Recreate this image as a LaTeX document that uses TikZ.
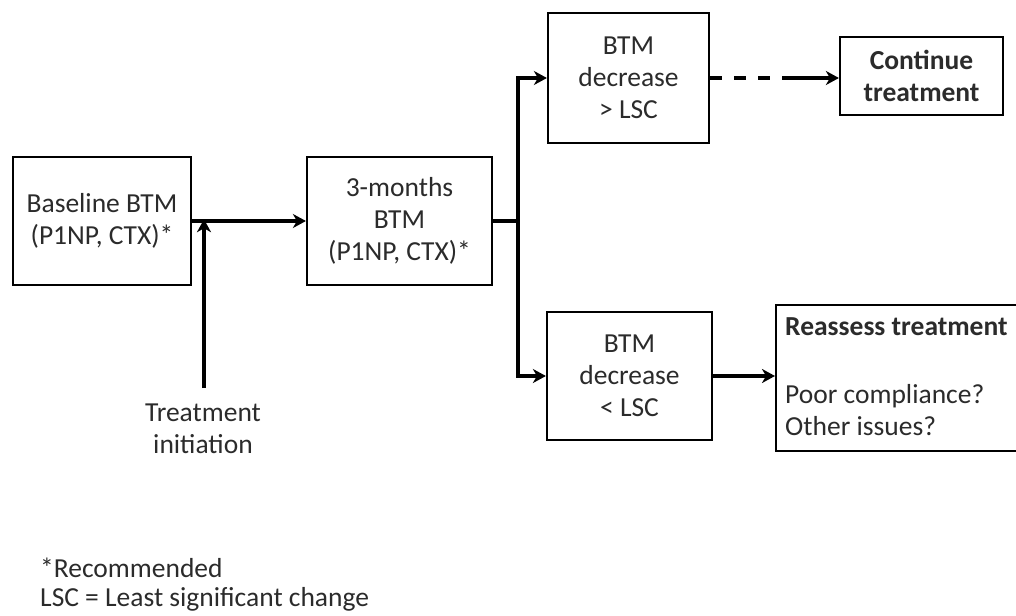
\documentclass[tikz,border=0pt]{standalone}
\usepackage{fontspec}
\setmainfont{Carlito}
\usetikzlibrary{arrows.meta}
\definecolor{txt}{HTML}{2B2B2B}
\begin{document}
\begin{tikzpicture}[x=1pt,y=-1pt,
  box/.style={draw=black,line width=2.2pt,fill=white,inner sep=0pt,align=center,text=txt,
    font=\fontsize{27.5}{32}\selectfont},
  arr/.style={line width=3.8pt,-{Stealth[length=13pt,width=14pt,inset=4pt]}},
  plain/.style={text=txt,font=\fontsize{27.5}{32}\selectfont,inner sep=0pt}]
\useasboundingbox (0,0) rectangle (1016,615);
\begin{scope}
\clip (0,0) rectangle (1016,615);
\node[box,minimum width=178pt,minimum height=128pt] (base) at (102,221) {Baseline BTM\\(P1NP, CTX)*};
\node[box,minimum width=185pt,minimum height=128pt] (m3) at (399.5,221) {3-months\\BTM\\(P1NP, CTX)*};
\node[box,minimum width=161pt,minimum height=130pt] (top) at (628.5,78) {BTM\\decrease\\> LSC};
\node[box,minimum width=165pt,minimum height=128pt] (bot) at (629.5,376) {BTM\\decrease\\< LSC};
\node[box,minimum width=163pt,minimum height=78pt,font=\fontsize{27.5}{32}\selectfont\bfseries] (cont) at (921.5,76) {Continue\\treatment};
\node[box,minimum width=260pt,minimum height=146pt,anchor=north west] (reas) at (775,304) {};
\end{scope}
\node[plain,anchor=west,font=\fontsize{27.5}{32}\selectfont\bfseries] (rt) at (785,327) {Reassess treatment};
\node[plain,anchor=north west,align=left] (rq) at (785,384) {Poor compliance?\\Other issues?};
\node[plain,align=center] (tinit) at (203,429) {Treatment\\initiation};
\node[plain,anchor=north west,align=left,font=\fontsize{27.5}{29}\selectfont] (foot) at (40,558) {*Recommended\\LSC = Least significant change};
\coordinate (tstart) at (204,388);
\coordinate (j1) at (204,221);
\draw[arr] (base.east) -- (m3.west);
\draw[arr] (tstart) -- ([yshift=1.8pt]j1);
\draw[arr] (m3.east) -- ++(25,0) coordinate (sp) |- (top.west);
\draw[arr] (sp) |- (bot.west);
\draw[arr,dash pattern=on 12pt off 12pt on 12pt off 12pt on 12pt off 12pt on 200pt] (top.east) -- (cont.west |- top.east);
\draw[arr] (bot.east) -- (reas.west |- bot.east);
\end{tikzpicture}
\end{document}
